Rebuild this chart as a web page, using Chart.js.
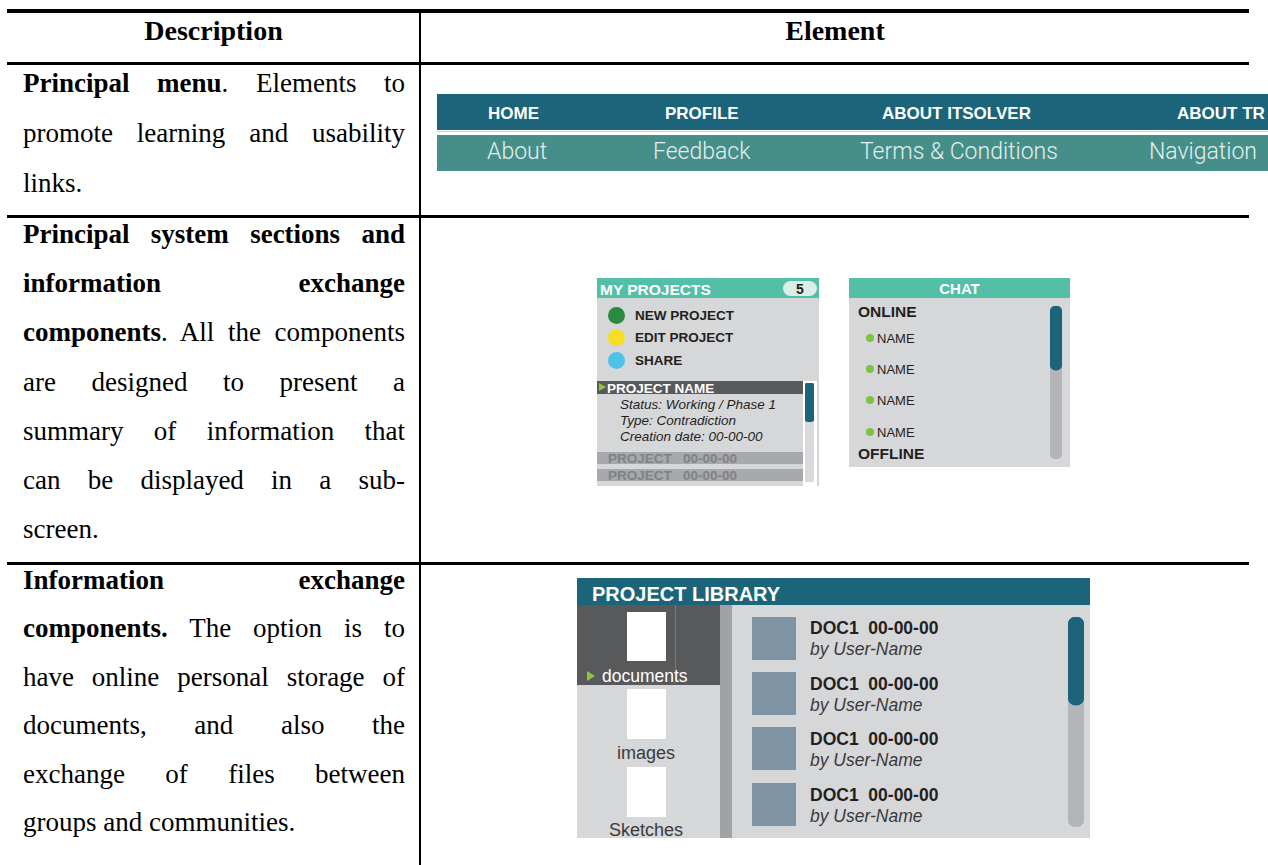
<!DOCTYPE html>
<html>
<head>
<meta charset="utf-8">
<script src="https://cdn.jsdelivr.net/npm/chart.js@4.4.0/dist/chart.umd.min.js"></script>
<style>
  html,body{margin:0;padding:0;background:#fff;}
  body{width:1268px;height:865px;position:relative;overflow:hidden;}
  .abs{position:absolute;}
  .hl{position:absolute;background:#000;}
  .serif{font-family:"Liberation Serif","Times New Roman",serif;color:#000;}
  .col{position:absolute;left:23px;width:382px;font-size:27px;}
  .col div{white-space:normal;text-align:justify;text-align-last:justify;}
  .col div.last{text-align:left;text-align-last:left;}
  .t{position:absolute;white-space:nowrap;line-height:1;font-family:"Liberation Sans",Arial,Helvetica,sans-serif;}
  .b{font-weight:bold;}
  .light{font-family:Roboto,"Liberation Sans",Arial,sans-serif;font-weight:300;}
  canvas{display:block;}
</style>
</head>
<body>
<!-- table rules -->
<div class="hl" style="left:7px;top:9px;width:1242px;height:3.5px;"></div>
<div class="hl" style="left:7px;top:62px;width:1242px;height:2.5px;"></div>
<div class="hl" style="left:7px;top:215px;width:1242px;height:2.5px;"></div>
<div class="hl" style="left:7px;top:562px;width:1242px;height:2.5px;"></div>
<div class="hl" style="left:419px;top:9px;width:2.2px;height:856px;"></div>

<!-- header -->
<div class="t b" style="left:7px;width:413px;text-align:center;top:17px;font-size:28px;font-family:'Liberation Serif','Times New Roman',serif;color:#000;">Description</div>
<div class="t b" style="left:421px;width:828px;text-align:center;top:17px;font-size:28px;font-family:'Liberation Serif','Times New Roman',serif;color:#000;">Element</div>

<!-- row 1 text -->
<div class="col serif" style="top:58px;line-height:50px;">
  <div><b>Principal menu</b>. Elements to</div>
  <div>promote learning and usability</div>
  <div class="last">links.</div>
</div>
<!-- row 2 text -->
<div class="col serif" style="top:210px;line-height:49.2px;">
  <div><b>Principal system sections and</b></div>
  <div><b>information exchange</b></div>
  <div><b>components</b>. All the components</div>
  <div>are designed to present a</div>
  <div>summary of information that</div>
  <div>can be displayed in a sub-</div>
  <div class="last">screen.</div>
</div>
<!-- row 3 text -->
<div class="col serif" style="top:555.5px;line-height:48.6px;">
  <div><b>Information exchange</b></div>
  <div><b>components.</b> The option is to</div>
  <div>have online personal storage of</div>
  <div>documents, and also the</div>
  <div>exchange of files between</div>
  <div class="last">groups and communities.</div>
</div>

<!-- MENU -->
<div class="abs" style="left:437px;top:94px;width:831px;height:36px;background:#1b6479;"></div>
<div class="abs" style="left:437px;top:131px;width:831px;height:1px;background:#c5d6d9;"></div>
<div class="abs" style="left:437px;top:135px;width:831px;height:36px;background:#468e89;"></div>
<div class="t b" style="left:488px;top:105px;font-size:17px;color:#fff;">HOME</div>
<div class="t b" style="left:665px;top:105px;font-size:17px;color:#fff;">PROFILE</div>
<div class="t b" style="left:882px;top:105px;font-size:17px;color:#fff;">ABOUT ITSOLVER</div>
<div class="t b" style="left:1177px;top:105px;font-size:17px;color:#fff;">ABOUT TR</div>
<div class="t light" style="left:487px;top:140px;font-size:23px;color:#e4eeec;">About</div>
<div class="t light" style="left:653px;top:140px;font-size:23px;color:#e4eeec;">Feedback</div>
<div class="t light" style="left:860px;top:140px;font-size:23px;color:#e4eeec;">Terms &amp; Conditions</div>
<div class="t light" style="left:1149px;top:140px;font-size:23px;color:#e4eeec;">Navigation</div>

<!-- MY PROJECTS -->
<div class="abs" style="left:597px;top:278px;width:222px;height:20px;background:#53bfa6;"></div>
<div class="abs" style="left:597px;top:298px;width:222px;height:188px;background:#d6d7d9;"></div>
<div class="t b" style="left:600px;top:282px;font-size:15.5px;color:#fff;">MY PROJECTS</div>
<div class="abs" style="left:783px;top:281px;width:34px;height:15px;border-radius:8px;background:#d9eee6;"></div>
<div class="t b" style="left:783px;width:34px;text-align:center;top:282px;font-size:14px;color:#231f20;">5</div>
<div class="abs" style="left:607.5px;top:306.5px;width:17px;height:17px;border-radius:50%;background:#2b8a3f;"></div>
<div class="abs" style="left:607.5px;top:328.5px;width:17px;height:17px;border-radius:50%;background:#f6df22;"></div>
<div class="abs" style="left:607.5px;top:351.5px;width:17px;height:17px;border-radius:50%;background:#4bc4e8;"></div>
<div class="t b" style="left:635px;top:308.5px;font-size:13.5px;color:#231f20;">NEW PROJECT</div>
<div class="t b" style="left:635px;top:330.5px;font-size:13.5px;color:#231f20;">EDIT PROJECT</div>
<div class="t b" style="left:635px;top:353.5px;font-size:13.5px;color:#231f20;">SHARE</div>
<div class="abs" style="left:597px;top:381px;width:206px;height:13px;background:#58595b;"></div>
<div class="abs" style="left:599px;top:383px;width:0;height:0;border-top:4.5px solid transparent;border-bottom:4.5px solid transparent;border-left:7px solid #8dc63f;"></div>
<div class="t b" style="left:607px;top:381.5px;font-size:13.5px;color:#fff;">PROJECT NAME</div>
<div class="t" style="left:620px;top:398px;font-size:13.5px;font-style:italic;color:#231f20;">Status: Working / Phase 1</div>
<div class="t" style="left:620px;top:414px;font-size:13.5px;font-style:italic;color:#231f20;">Type: Contradiction</div>
<div class="t" style="left:620px;top:430px;font-size:13.5px;font-style:italic;color:#231f20;">Creation date: 00-00-00</div>
<div class="abs" style="left:597px;top:452px;width:206px;height:12px;background:#a7a9ac;"></div>
<div class="abs" style="left:597px;top:469px;width:206px;height:12px;background:#a7a9ac;"></div>
<div class="t b" style="left:608px;top:451.5px;font-size:13.5px;color:#808285;">PROJECT&nbsp;&nbsp;&nbsp;00-00-00</div>
<div class="t b" style="left:608px;top:468.5px;font-size:13.5px;color:#808285;">PROJECT&nbsp;&nbsp;&nbsp;00-00-00</div>
<div class="abs" style="left:803px;top:381px;width:14px;height:105px;background:#fff;"></div>
<div class="abs" style="left:805px;top:383px;width:9px;height:99px;"><canvas id="sb0" width="9" height="99"></canvas></div>

<!-- CHAT -->
<div class="abs" style="left:849px;top:278px;width:221px;height:20px;background:#53bfa6;"></div>
<div class="abs" style="left:849px;top:298px;width:221px;height:169px;background:#d6d7d9;"></div>
<div class="t b" style="left:849px;width:221px;text-align:center;top:281px;font-size:15px;color:#fff;">CHAT</div>
<div class="t b" style="left:858px;top:304px;font-size:15.5px;color:#231f20;">ONLINE</div>
<div class="abs" style="left:866px;top:334px;width:8px;height:8px;border-radius:50%;background:#7dc242;"></div>
<div class="abs" style="left:866px;top:365px;width:8px;height:8px;border-radius:50%;background:#7dc242;"></div>
<div class="abs" style="left:866px;top:396px;width:8px;height:8px;border-radius:50%;background:#7dc242;"></div>
<div class="abs" style="left:866px;top:428px;width:8px;height:8px;border-radius:50%;background:#7dc242;"></div>
<div class="t" style="left:877px;top:331.5px;font-size:13px;color:#231f20;">NAME</div>
<div class="t" style="left:877px;top:362.5px;font-size:13px;color:#231f20;">NAME</div>
<div class="t" style="left:877px;top:393.5px;font-size:13px;color:#231f20;">NAME</div>
<div class="t" style="left:877px;top:425.5px;font-size:13px;color:#231f20;">NAME</div>
<div class="t b" style="left:858px;top:445.5px;font-size:15.5px;color:#231f20;">OFFLINE</div>
<div class="abs" style="left:1050px;top:306px;width:12px;height:153px;"><canvas id="sb1" width="12" height="153"></canvas></div>

<!-- PROJECT LIBRARY -->
<div class="abs" style="left:577px;top:578px;width:513px;height:27px;background:#1b6479;"></div>
<div class="t b" style="left:592px;top:584px;font-size:20px;color:#fff;">PROJECT LIBRARY</div>
<div class="abs" style="left:577px;top:605px;width:143px;height:233px;background:#d6d7d9;"></div>
<div class="abs" style="left:577px;top:605px;width:143px;height:80px;background:#58595b;"></div>
<div class="abs" style="left:675px;top:605px;width:1px;height:78px;background:#77787b;"></div>
<div class="abs" style="left:627px;top:612px;width:39px;height:49px;background:#fff;"></div>
<div class="abs" style="left:627px;top:689px;width:39px;height:50px;background:#fff;"></div>
<div class="abs" style="left:627px;top:767px;width:39px;height:50px;background:#fff;"></div>
<div class="abs" style="left:587px;top:671px;width:0;height:0;border-top:5.5px solid transparent;border-bottom:5.5px solid transparent;border-left:8px solid #8dc63f;"></div>
<div class="t" style="left:602px;top:668px;font-size:17.5px;color:#fff;">documents</div>
<div class="t" style="left:617px;top:744px;font-size:18px;color:#3a3a3c;">images</div>
<div class="t" style="left:609px;top:821px;font-size:18px;color:#3a3a3c;">Sketches</div>
<div class="abs" style="left:720px;top:605px;width:12px;height:233px;background:#a1a2a5;"></div>
<div class="abs" style="left:732px;top:605px;width:358px;height:233px;background:#d6d7d9;"></div>
<div class="abs" style="left:752px;top:617px;width:44px;height:43px;background:#7e93a3;"></div>
<div class="abs" style="left:752px;top:672px;width:44px;height:43px;background:#7e93a3;"></div>
<div class="abs" style="left:752px;top:727px;width:44px;height:43px;background:#7e93a3;"></div>
<div class="abs" style="left:752px;top:783px;width:44px;height:43px;background:#7e93a3;"></div>
<div class="t b" style="left:810px;top:620px;font-size:17.5px;color:#231f20;">DOC1&nbsp; 00-00-00</div>
<div class="t" style="left:810px;top:641px;font-size:17.5px;font-style:italic;color:#3a3a3c;">by User-Name</div>
<div class="t b" style="left:810px;top:675.5px;font-size:17.5px;color:#231f20;">DOC1&nbsp; 00-00-00</div>
<div class="t" style="left:810px;top:696.5px;font-size:17.5px;font-style:italic;color:#3a3a3c;">by User-Name</div>
<div class="t b" style="left:810px;top:731px;font-size:17.5px;color:#231f20;">DOC1&nbsp; 00-00-00</div>
<div class="t" style="left:810px;top:752px;font-size:17.5px;font-style:italic;color:#3a3a3c;">by User-Name</div>
<div class="t b" style="left:810px;top:787px;font-size:17.5px;color:#231f20;">DOC1&nbsp; 00-00-00</div>
<div class="t" style="left:810px;top:808px;font-size:17.5px;font-style:italic;color:#3a3a3c;">by User-Name</div>
<div class="abs" style="left:1068px;top:617px;width:16px;height:210px;"><canvas id="sb2" width="16" height="210"></canvas></div>

<script>
// Scroll bars of the three mock-up panels (percent of track)
const scrollPanels = ['MY PROJECTS', 'CHAT', 'PROJECT LIBRARY'];
const scrollTrack = [[0, 100], [0, 100], [0, 100]];
const scrollThumb = [[0, 39], [0, 42], [0, 42]];

const trackColors = ['#d9dadc', '#b3b5b8', '#b3b5b8'];
const thumbColor = '#1b6479';
const radii = [3, 6, 8];

scrollPanels.forEach(function (name, i) {
  const ctx = document.getElementById('sb' + i);
  new Chart(ctx, {
    type: 'bar',
    data: {
      labels: [name],
      datasets: [
        { data: [scrollThumb[i]], backgroundColor: thumbColor, grouped: false,
          borderRadius: radii[i], borderSkipped: false, barPercentage: 1, categoryPercentage: 1 },
        { data: [scrollTrack[i]], backgroundColor: trackColors[i], grouped: false,
          borderRadius: radii[i], borderSkipped: false, barPercentage: 1, categoryPercentage: 1 }
      ]
    },
    options: {
      responsive: false,
      animation: false,
      events: [],
      layout: { padding: 0 },
      plugins: { legend: { display: false }, tooltip: { enabled: false } },
      scales: {
        x: { display: false },
        y: { display: false, reverse: true, min: 0, max: 100 }
      }
    }
  });
});
</script>
</body>
</html>
